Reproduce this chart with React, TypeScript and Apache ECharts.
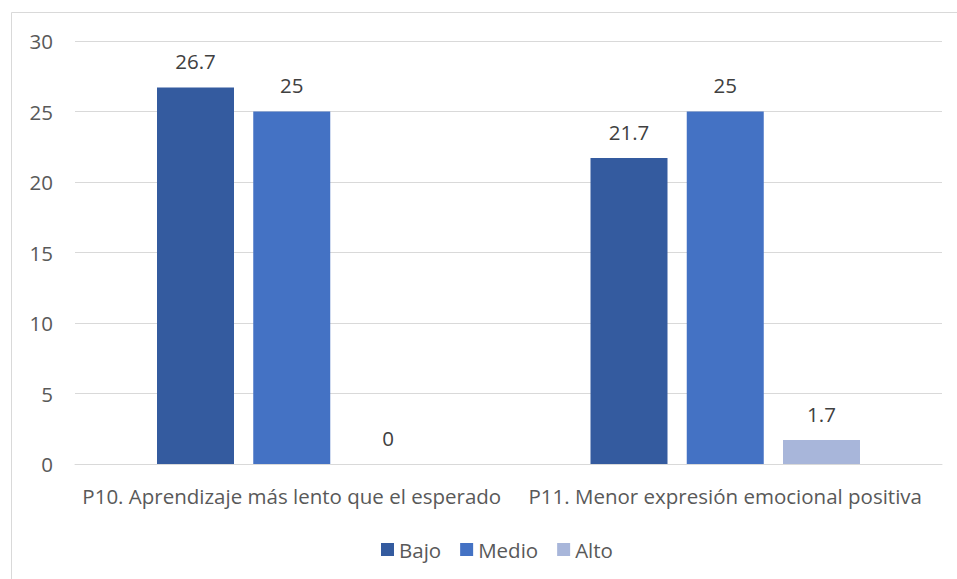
import React, { useEffect, useRef } from "react";
import * as echarts from "echarts";

const categories = [
  "P10. Aprendizaje más lento que el esperado",
  "P11. Menor expresión emocional positiva",
];
const seriesNames = ["Bajo", "Medio", "Alto"];
const bajo = [26.7, 21.7];
const medio = [25, 25];
const alto = [0, 1.7];
const colors = ["#345B9F", "#4472C4", "#A8B6DA"];

const FONT = "'Open Sans', sans-serif";
const TEXT = "#595959";
const SIZE = 20.5;

export default function App() {
  const ref = useRef<HTMLDivElement>(null);

  useEffect(() => {
    document.body.style.margin = "0";
    if (!ref.current) return;
    const chart = echarts.init(ref.current, undefined, { renderer: "svg" });
    const values = [bajo, medio, alto];
    chart.setOption({
      animation: false,
      textStyle: { fontFamily: FONT },
      graphic: [
        {
          type: "rect",
          shape: { x: 11.5, y: 12.5, width: 1000, height: 1000 },
          style: { fill: "none", stroke: "#D9D9D9", lineWidth: 1 },
          silent: true,
        },
      ],
      grid: { left: 75, right: 15, top: 41, bottom: 115, containLabel: false },
      legend: {
        left: 376,
        top: 534,
        itemWidth: 13,
        itemHeight: 13,
        itemGap: 19,
        icon: "rect",
        textStyle: { color: TEXT, fontSize: SIZE, fontFamily: FONT, padding: [0, 0, 0, 0] },
        data: seriesNames,
      },
      xAxis: {
        type: "category",
        data: categories,
        axisLine: { show: true, lineStyle: { color: "#D9D9D9", width: 1 } },
        axisTick: { show: false },
        axisLabel: { color: TEXT, fontSize: SIZE, fontFamily: FONT, margin: 21, interval: 0 },
      },
      yAxis: {
        type: "value",
        min: 0,
        max: 30,
        interval: 5,
        axisLine: { show: false },
        axisTick: { show: false },
        splitLine: { lineStyle: { color: "#D9D9D9", width: 1 } },
        axisLabel: { color: TEXT, fontSize: SIZE, fontFamily: FONT, margin: 22 },
      },
      series: seriesNames.map((name, i) => ({
        name,
        type: "bar",
        data: values[i],
        barWidth: 77,
        barGap: "25%",
        itemStyle: { color: colors[i] },
        label: {
          show: true,
          position: "top",
          distance: 16,
          color: "#404040",
          fontSize: SIZE,
          fontFamily: FONT,
        },
      })),
    });
    return () => chart.dispose();
  }, []);

  return <div ref={ref} style={{ width: 957, height: 579 }} />;
}
